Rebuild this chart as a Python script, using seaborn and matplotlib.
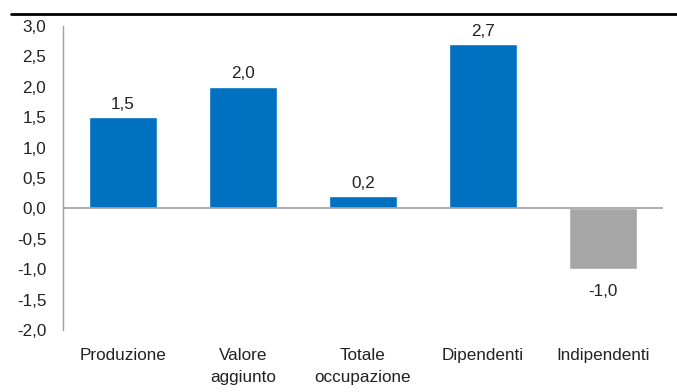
import matplotlib
matplotlib.use("Agg")
import matplotlib.pyplot as plt
from matplotlib.lines import Line2D
import seaborn as sns
import pandas as pd

categories = ["Produzione", "Valore\naggiunto", "Totale\noccupazione", "Dipendenti", "Indipendenti"]
values = [1.5, 2.0, 0.2, 2.7, -1.0]
yticks = [3.0, 2.5, 2.0, 1.5, 1.0, 0.5, 0.0, -0.5, -1.0, -1.5, -2.0]

sns.set_theme(style="white")
plt.rcParams['font.family'] = ['Liberation Sans Narrow', 'Liberation Sans', 'DejaVu Sans']

df = pd.DataFrame({"cat": categories, "val": values})
df["sign"] = ["pos" if v >= 0 else "neg" for v in values]

fs = 12.3
fig = plt.figure(figsize=(6.77, 3.92), dpi=100)
ax = fig.add_axes([63/677, 1-330/392, 600/677, 304/392])

sns.barplot(data=df, x="cat", y="val", hue="sign", palette={"pos": "#0070C0", "neg": "#A6A6A6"},
            width=0.57, dodge=False, legend=False, ax=ax, saturation=1)

ax.set_xlim(-0.5, 4.5)
ax.set_ylim(-2.0, 3.0)
ax.set_yticks(yticks)
ax.set_yticklabels([f"{t:.1f}".replace(".", ",") for t in yticks], fontsize=fs, color="#222222")
ax.set_xticks(range(len(categories)))
ax.set_xticklabels(categories, fontsize=fs, color="#222222", linespacing=1.55)
ax.tick_params(axis="x", length=0, pad=13)
ax.tick_params(axis="y", length=0, pad=12)
ax.set_xlabel("")
ax.set_ylabel("")

for s in ["top", "right", "bottom"]:
    ax.spines[s].set_visible(False)
ax.spines["left"].set_color("#A0A0A0")
ax.spines["left"].set_linewidth(1.0)
ax.axhline(0, color="#A0A0A0", lw=1.2, zorder=3)

for i, v in enumerate(values):
    lab = f"{v:.1f}".replace(".", ",")
    if v >= 0:
        ax.annotate(lab, (i, v), xytext=(0, 4), textcoords="offset points", ha="center", va="bottom",
                    fontsize=fs, color="#222222")
    else:
        ax.annotate(lab, (i, v), xytext=(0, -11), textcoords="offset points", ha="center", va="top",
                    fontsize=fs, color="#222222")

fig.add_artist(Line2D([11/677, 1.0], [1-14/392, 1-14/392], color="black", lw=2, transform=fig.transFigure))

fig.savefig("out.png", dpi=100)
